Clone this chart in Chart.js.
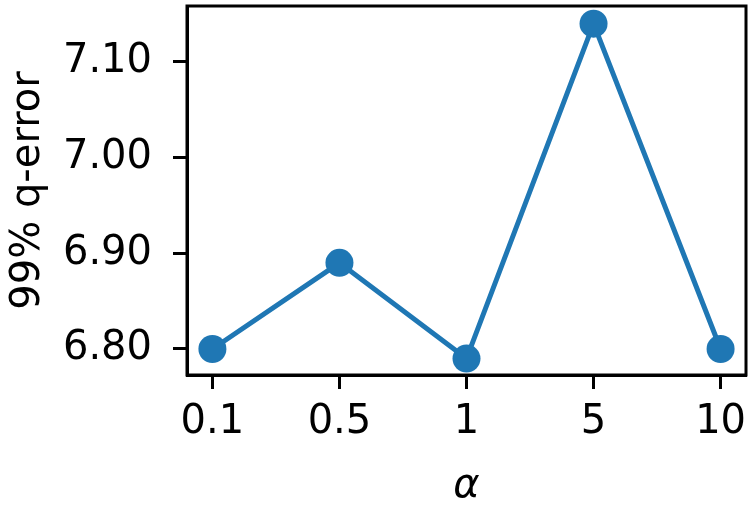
<!DOCTYPE html>
<html>
<head>
<meta charset="utf-8">
<script src="https://cdn.jsdelivr.net/npm/chart.js@4"></script>
<style>
  html, body { margin: 0; padding: 0; background: #fff; }
  #wrap { width: 751px; height: 511px; }
</style>
</head>
<body>
<div id="wrap"><canvas id="lineChart"></canvas></div>
<script>
// q-error at the 99th percentile for each alpha
const alphaLabels = ['0.1', '0.5', '1', '5', '10'];
const qError = [6.80, 6.89, 6.79, 7.14, 6.80];
const yTicks = [6.80, 6.90, 7.00, 7.10];

const points = qError.map((v, i) => ({ x: i, y: v }));

// draw the full black box around the plot area
const frame = {
    id: 'frame',
    afterDraw(chart) {
        const { ctx, chartArea: a } = chart;
        ctx.save();
        ctx.strokeStyle = '#000';
        ctx.lineWidth = 3;
        ctx.strokeRect(a.left, a.top, a.right - a.left, a.bottom - a.top);
        ctx.restore();
    }
};

const font = { family: 'DejaVu Sans', size: 40 };

const config = {
    type: 'line',
    data: {
        datasets: [{
            data: points,
            borderColor: '#1f77b4',
            backgroundColor: '#1f77b4',
            borderWidth: 5,
            pointRadius: 14,
            pointHoverRadius: 14,
            pointBorderWidth: 0,
            tension: 0,
            clip: false,
        }]
    },
    options: {
        responsive: true,
        maintainAspectRatio: false,
        animation: false,
        events: [],
        layout: { autoPadding: false, padding: { top: 6, right: 5, left: 5, bottom: 0 } },
        plugins: { legend: { display: false }, tooltip: { enabled: false } },
        scales: {
            x: {
                type: 'linear',
                min: -0.2,
                max: 4.2,
                afterBuildTicks: s => { s.ticks = alphaLabels.map((_, i) => ({ value: i })); },
                afterFit: s => { s.height = 136; s.paddingLeft = 0; s.paddingRight = 0; },
                ticks: {
                    color: '#000',
                    font: font,
                    padding: 10,
                    maxRotation: 0,
                    callback: v => alphaLabels[v]
                },
                grid: { drawOnChartArea: false, tickLength: 14, tickWidth: 3, tickColor: '#000' },
                border: { display: true, color: '#000', width: 3 },
                title: {
                    display: true,
                    text: 'α',
                    color: '#000',
                    font: { family: 'DejaVu Sans', size: 40, style: 'italic' },
                    padding: { top: 4, bottom: 0 }
                }
            },
            y: {
                min: 6.7728,
                max: 7.1585,
                afterBuildTicks: s => { s.ticks = yTicks.map(v => ({ value: v })); },
                afterFit: s => { s.width = 182; s.paddingTop = 0; s.paddingBottom = 0; },
                ticks: {
                    color: '#000',
                    font: font,
                    padding: 21,
                    callback: v => v.toFixed(2)
                },
                grid: { drawOnChartArea: false, tickLength: 14, tickWidth: 3, tickColor: '#000' },
                border: { display: true, color: '#000', width: 3 },
                title: {
                    display: true,
                    text: '99% q-error',
                    color: '#000',
                    font: font,
                    padding: { top: 0, bottom: 6 }
                }
            }
        }
    },
    plugins: [frame]
};

const myLineChart = new Chart(document.getElementById('lineChart'), config);
</script>
</body>
</html>
